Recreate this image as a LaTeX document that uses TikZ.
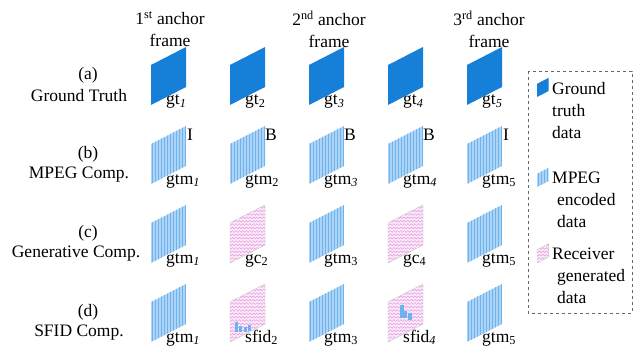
\documentclass[tikz,border=0pt]{standalone}
\usepackage{fontspec}
\setmainfont{Liberation Serif}
\usepackage{tikz}
\usetikzlibrary{positioning, decorations.pathmorphing}

\definecolor{gtblue}{RGB}{22,128,216}
\definecolor{mplight}{RGB}{172,212,246}
\definecolor{mpdark}{RGB}{112,178,236}
\definecolor{rcfill}{RGB}{252,236,250}
\definecolor{rcline}{RGB}{228,150,222}
\definecolor{sfbar}{RGB}{108,180,240}

% frame shapes: bottom-left x, y, size
\newcommand{\gtfrm}[3]{%
  \fill[gtblue] (#1,#2) -- ++(35*#3,-18*#3) -- ++(0,-40*#3) -- ++(-35*#3,18*#3) -- cycle;}
\newcommand{\mpfrm}[3]{%
  \begin{scope}
    \clip (#1,#2) -- ++(35*#3,-18*#3) -- ++(0,-40*#3) -- ++(-35*#3,18*#3) -- cycle;
    \fill[mplight] (#1,#2+1) rectangle ++(36,-61);
    \foreach \k in {0,...,11}
      \draw[mpdark, line width=1.3pt] (#1+1.5+3*\k,#2+1) -- ++(0,-61);
  \end{scope}}
\newcommand{\rcfrm}[3]{%
  \begin{scope}
    \clip (#1,#2) -- ++(35*#3,-18*#3) -- ++(0,-40*#3) -- ++(-35*#3,18*#3) -- cycle;
    \fill[rcfill] (#1,#2+1) rectangle ++(36,-61);
    \foreach \k in {0,...,17}
      \draw[rcline, line width=0.5pt, decorate,
        decoration={zigzag, segment length=3.5pt, amplitude=0.9pt}]
        (#1-2,#2-1-3.4*\k) -- ++(40,0);
  \end{scope}
  \draw[gray!45, line width=0.4pt] (#1,#2) -- ++(35*#3,-18*#3) -- ++(0,-40*#3) -- ++(-35*#3,18*#3) -- cycle;}

\begin{document}
\begin{tikzpicture}[
    x=1pt, y=-1pt,
    font=\fontsize{17.5}{22}\selectfont,
    lbl/.style={anchor=base west, inner sep=0pt},
    hdr/.style={align=center, inner sep=0pt},
    rowtxt/.style={inner sep=0pt},
    typ/.style={anchor=west, inner sep=0pt},
    lgd/.style={anchor=base west, align=left, inner sep=0pt}
]
\useasboundingbox (0,0) rectangle (640,350);

% column headers
\node[hdr] (h1) at (170,29) {1\textsuperscript{st} anchor\\frame};
\node[hdr] (h2) at (329,29) {2\textsuperscript{nd} anchor\\frame};
\node[hdr] (h3) at (489,29) {3\textsuperscript{rd} anchor\\frame};

% row captions
\node[rowtxt] (ra)  at (88,75)  {(a)};
\node[rowtxt] (rna) at (79,96)  {Ground Truth};
\node[rowtxt] (rb)  at (88,154) {(b)};
\node[rowtxt] (rnb) at (79,175) {MPEG Comp.};
\node[rowtxt] (rc)  at (88,233) {(c)};
\node[rowtxt] (rnc) at (76,254) {Generative Comp.};
\node[rowtxt] (rd)  at (88,312) {(d)};
\node[rowtxt] (rnd) at (79,333) {SFID Comp.};

% (a) ground truth
\foreach \xx in {151,230,309,388,467} {\gtfrm{\xx}{105}{1}}
\node[lbl] (gta1) at (166,105) {gt\textsubscript{\textit{1}}};
\node[lbl] (gta2) at (245,105) {gt\textsubscript{2}};
\node[lbl] (gta3) at (324,105) {gt\textsubscript{\textit{3}}};
\node[lbl] (gta4) at (403,105) {gt\textsubscript{\textit{4}}};
\node[lbl] (gta5) at (482,105) {gt\textsubscript{\textit{5}}};

% (b) mpeg
\foreach \xx in {151,230,309,388,467} {\mpfrm{\xx}{184}{1}}
\node[lbl] (gtmb1) at (166,184) {gtm\textsubscript{\textit{1}}};
\node[lbl] (gtmb2) at (245,184) {gtm\textsubscript{2}};
\node[lbl] (gtmb3) at (324,184) {gtm\textsubscript{\textit{3}}};
\node[lbl] (gtmb4) at (403,184) {gtm\textsubscript{\textit{4}}};
\node[lbl] (gtmb5) at (482,184) {gtm\textsubscript{5}};
\node[typ] (tb1) at (187,135) {I};
\node[typ] (tb2) at (265,135) {B};
\node[typ] (tb3) at (344,135) {B};
\node[typ] (tb4) at (423,135) {B};
\node[typ] (tb5) at (503,135) {I};

% (c) generative
\mpfrm{151}{263}{1}
\rcfrm{230}{263}{1}
\mpfrm{309}{263}{1}
\rcfrm{388}{263}{1}
\mpfrm{467}{263}{1}
\node[lbl] (gtmc1) at (166,263) {gtm\textsubscript{\textit{1}}};
\node[lbl] (gcc2)  at (245,263) {gc\textsubscript{2}};
\node[lbl] (gtmc3) at (324,263) {gtm\textsubscript{3}};
\node[lbl] (gcc4)  at (403,263) {gc\textsubscript{4}};
\node[lbl] (gtmc5) at (482,263) {gtm\textsubscript{5}};

% (d) sfid
\mpfrm{151}{342}{1}
\rcfrm{230}{342}{1}
\mpfrm{309}{342}{1}
\rcfrm{388}{342}{1}
\mpfrm{467}{342}{1}
\fill[sfbar] (235,322) rectangle (238,332);
\fill[sfbar] (239,326) rectangle (242,332);
\fill[sfbar] (244,327) rectangle (247,332);
\fill[sfbar] (248,325) rectangle (251,331);
\fill[sfbar] (400,305) rectangle (404,318);
\fill[sfbar] (404,311) rectangle (407,318);
\fill[sfbar] (408,313) rectangle (412,320);
\node[lbl] (gtmd1) at (166,342) {gtm\textsubscript{\textit{1}}};
\node[lbl] (sfd2)  at (245,342) {sfid\textsubscript{2}};
\node[lbl] (gtmd3) at (324,342) {gtm\textsubscript{3}};
\node[lbl] (sfd4)  at (403,342) {sfid\textsubscript{\textit{4}}};
\node[lbl] (gtmd5) at (482,342) {gtm\textsubscript{5}};

% legend (base = last line)
\draw[gray!80!black, dashed, line width=0.5pt] (528,71) rectangle (632,313);
\gtfrm{537}{97}{0.33}
\mpfrm{537}{187}{0.33}
\rcfrm{537}{263}{0.33}
\node[lgd] (lg1) at (552,139) {Ground\\truth\\data};
\node[lgd] (lg2) at (552,227) {MPEG\\\hspace*{5pt}encoded\\\hspace*{5pt}data};
\node[lgd] (lg3) at (552,303) {Receiver\\\hspace*{5pt}generated\\\hspace*{5pt}data};

\end{tikzpicture}
\end{document}
